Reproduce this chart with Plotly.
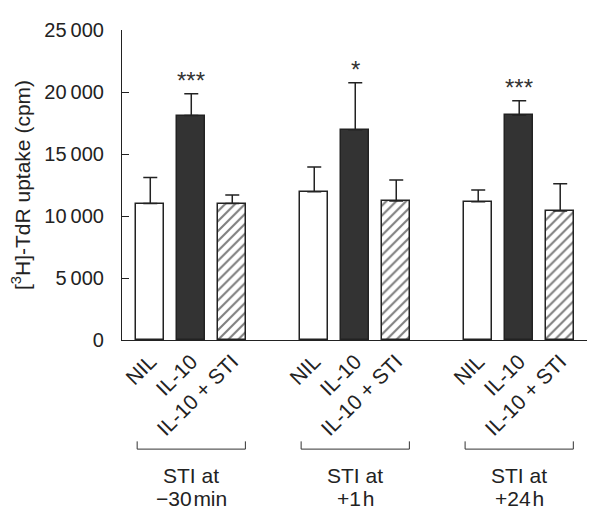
import plotly.graph_objects as go

group_line1 = ["STI at", "STI at", "STI at"]
group_line2 = ["\u221230\u200amin", "+1\u200ah", "+24\u200ah"]
conditions = ["NIL", "IL-10", "IL-10 + STI"]
x_pos = [0, 1, 2, 4, 5, 6, 8, 9, 10]
values = [11000, 18100, 11000, 11950, 16950, 11200, 11150, 18150, 10400]
errors = [2100, 1750, 700, 2000, 3800, 1700, 950, 1150, 2200]
stars = ["", "***", "", "", "*", "", "", "***", ""]
ytick_vals = [0, 5000, 10000, 15000, 20000, 25000]
ytick_text = ["0", "5\u2009000", "10\u2009000", "15\u2009000", "20\u2009000", "25\u2009000"]

FONT = "Liberation Sans, Arial, sans-serif"
fig = go.Figure()

fills = ["white", "#333333", "white"]
for ci, cond in enumerate(conditions):
    xs = [x_pos[g * 3 + ci] for g in range(3)]
    ys = [values[g * 3 + ci] for g in range(3)]
    es = [errors[g * 3 + ci] for g in range(3)]
    marker = dict(color=fills[ci], line=dict(color="#222222", width=1.5))
    if ci == 2:
        marker["pattern"] = dict(shape="/", fgcolor="#000000", bgcolor="white", size=7, solidity=0.3)
    fig.add_trace(go.Bar(
        x=xs, y=ys, width=0.68, marker=marker, showlegend=False,
        error_y=dict(type="data", array=es, arrayminus=[0] * 3, symmetric=False,
                     color="#222222", thickness=1.5, width=7),
    ))

for xi, v, e, s in zip(x_pos, values, errors, stars):
    if s:
        fig.add_annotation(x=xi, y=v + e, text=s, showarrow=False, yshift=13,
                           font=dict(family=FONT, size=24, color="#333333"))

shapes = []
for g in range(3):
    x0 = g * 4 - 0.32
    x1 = g * 4 + 2.32
    shapes.append(dict(type="path", xref="x", yref="paper",
                       path=f"M {x0},-0.327 L {x0},-0.352 L {x1},-0.352 L {x1},-0.327",
                       line=dict(color="#333333", width=1)))
    fig.add_annotation(x=g * 4 + 1, y=-0.4355, xref="x", yref="paper", text=group_line1[g],
                       showarrow=False, yanchor="middle", align="center",
                       font=dict(family=FONT, size=21, color="#222222"))
    fig.add_annotation(x=g * 4 + 1, y=-0.51, xref="x", yref="paper", text=group_line2[g],
                       showarrow=False, yanchor="middle", align="center",
                       font=dict(family=FONT, size=21, color="#222222"))

fig.update_layout(
    width=587, height=504,
    margin=dict(l=114, r=2, t=22, b=172),
    paper_bgcolor="white", plot_bgcolor="white",
    bargap=0, shapes=shapes,
    xaxis=dict(range=[-0.69, 10.8], tickmode="array", tickvals=x_pos, ticktext=conditions * 3,
               tickangle=-45, showline=True, linecolor="#222222", linewidth=1.2,
               ticks="", showgrid=False, zeroline=False, automargin=False,
               tickfont=dict(family=FONT, size=21, color="#222222")),
    yaxis=dict(range=[0, 25000], tickmode="array", tickvals=ytick_vals, ticktext=ytick_text,
               showline=True, linecolor="#222222", linewidth=1.2, ticks="inside", ticklen=7,
               tickcolor="#222222", showgrid=False, zeroline=False, ticklabelstandoff=13,
               automargin=False,
               tickfont=dict(family=FONT, size=20, color="#222222"),
               title=dict(text="[<sup>3</sup>H]-TdR uptake (cpm)", standoff=16,
                          font=dict(family=FONT, size=21, color="#222222"))),
)

fig.write_html("out.html")
